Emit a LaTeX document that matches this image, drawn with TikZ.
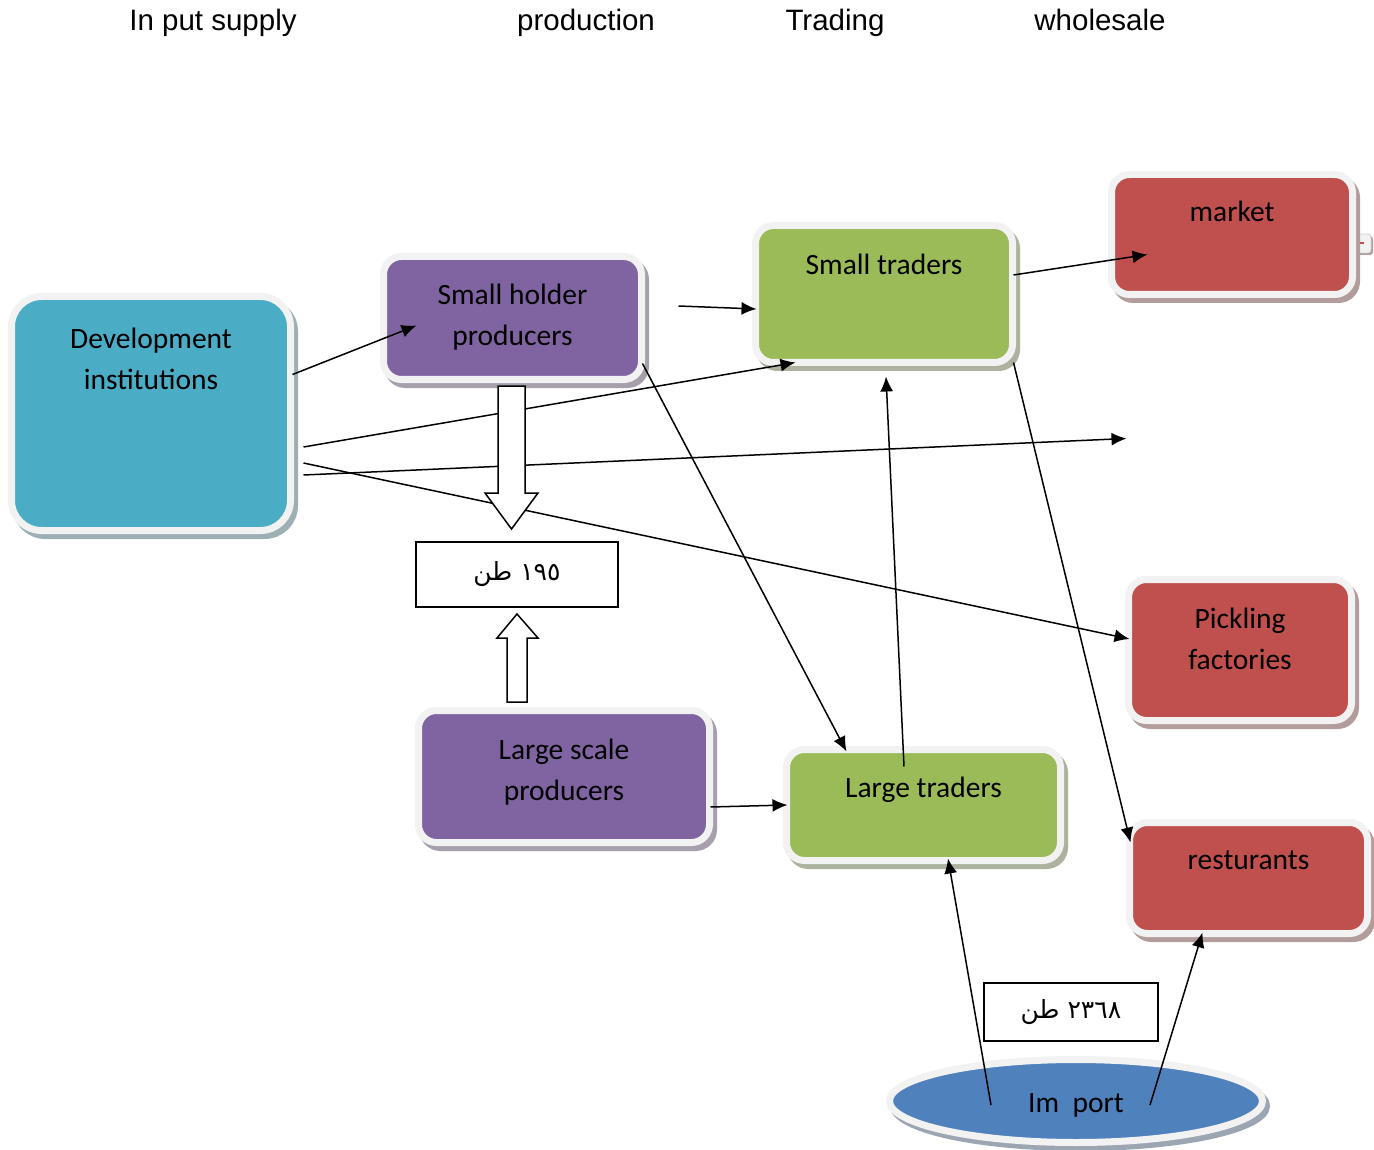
\documentclass[tikz,border=0pt]{standalone}
\usepackage{fontspec}
\setmainfont{Carlito}
\newfontfamily\hdrfont{Liberation Sans}
\newfontfamily\arabicfont[Script=Arabic]{DejaVu Sans}
\TeXXeTstate=1
\usetikzlibrary{calc,shapes.geometric,arrows.meta,shadows}
\definecolor{aqua}{HTML}{4BACC6}
\definecolor{purp}{HTML}{8064A2}
\definecolor{grn}{HTML}{9BBB59}
\definecolor{rd}{HTML}{C0504D}
\definecolor{blu}{HTML}{4F81BD}
\definecolor{bordc}{HTML}{F2F2F2}
\begin{document}
\begin{tikzpicture}[x=1pt,y=-1pt,
  wbox/.style={rectangle, rounded corners=18pt, fill=#1, draw=bordc, line width=7pt, outer sep=0pt, inner sep=0pt,
     drop shadow={shadow xshift=4pt, shadow yshift=-5pt, opacity=1, fill=#1!45!black!45!white, draw=#1!45!black!45!white, line width=7pt}},
  lbl/.style={font=\fontsize{29.5}{41}\selectfont, align=center, inner sep=0pt, anchor=north},
  conn/.style={line width=1.5pt, -{Latex[length=15pt,width=13pt]}},
  tbox/.style={draw=black, line width=1.5pt, fill=white, inner sep=0pt, font=\arabicfont\fontsize{25}{30}\selectfont},
  blk/.style={draw=black, line width=1.5pt, fill=white, line join=miter},
  hdr/.style={font=\hdrfont\fontsize{29.5}{34}\selectfont, anchor=base, inner sep=0pt}]
\useasboundingbox (0,0) rectangle (1374,1150);
\fill[white] (0,0) rectangle (1374,1150);

% headers
\node[hdr] (h1) at (213,31) {In put supply};
\node[hdr] (h2) at (586,31) {production};
\node[hdr] (h3) at (835,31) {Trading};
\node[hdr] (h4) at (1100,31) {wholesale};

% market tab
\draw[fill=bordc, draw=bordc!70!gray, line width=0.8pt, rounded corners=3pt,
  drop shadow={shadow xshift=2pt, shadow yshift=-2pt, opacity=1, fill=rd!45!black!45!white}] (1349,234) rectangle (1371,253);
\draw[rd, line width=1.4pt] (1357,243) -- (1364,243);

% boxes
\node[wbox=aqua, rounded corners=30pt, minimum width=279pt, minimum height=234pt] (dev) at (151,413.5) {};
\node[wbox=purp, minimum width=258pt, minimum height=123pt] (sh) at (512.5,318) {};
\node[wbox=grn, minimum width=257pt, minimum height=137pt] (st) at (884,294) {};
\node[wbox=rd, minimum width=241pt, minimum height=120pt] (mk) at (1232,234.5) {};
\node[wbox=rd, minimum width=223pt, minimum height=141pt] (pk) at (1240,650) {};
\node[wbox=rd, minimum width=238pt, minimum height=111pt] (rs) at (1248.5,878) {};
\node[wbox=purp, minimum width=291pt, minimum height=132pt] (ls) at (564,776.5) {};
\node[wbox=grn, minimum width=274pt, minimum height=111pt] (lt) at (923.5,805) {};
\node[ellipse, fill=blu, draw=bordc, line width=7pt, outer sep=0pt, inner sep=0pt,
  minimum width=373pt, minimum height=83pt, font=\fontsize{29.5}{34}\selectfont,
  drop shadow={shadow xshift=4pt, shadow yshift=-5pt, opacity=1, fill=blu!45!black!45!white, draw=blu!45!black!45!white, line width=7pt}]
  (im) at (1076,1101) {\raisebox{-11pt}[0pt][0pt]{Im\ \ port}};

% box labels
\node[lbl] (devl) at ($(dev.north)+(0,31)$) {Development\\institutions};
\node[lbl] (shl) at ($(sh.north)+(0,27)$) {Small holder\\producers};
\node[lbl] (stl) at ($(st.north)+(0,28)$) {Small traders};
\node[lbl] (mkl) at ($(mk.north)+(0,26)$) {market};
\node[lbl] (pkl) at ($(pk.north)+(0,28)$) {Pickling\\factories};
\node[lbl] (rsl) at ($(rs.north)+(0,28)$) {resturants};
\node[lbl] (lsl) at ($(ls.north)+(0,28)$) {Large scale\\producers};
\node[lbl] (ltl) at ($(lt.north)+(0,27)$) {Large traders};

% connectors
\coordinate (gap) at ($(mk.south west)+(15,144)$);
\draw[conn] ($(dev.north east)+(2,78)$) -- ($(sh.south west)+(33,-54)$);
\draw[conn] ($(sh.east)+(37,-12)$) -- ($(st.west)+(1,15)$);
\draw[conn] ($(dev.east)+(13,33.5)$) -- ($(st.south west)+(40,0)$);
\draw[conn] ($(dev.east)+(13,61.5)$) -- (gap);
\draw[conn] ($(dev.east)+(13,49.5)$) -- ($(pk.west)+(1,-11)$);
\draw[conn] ($(st.east)+(1,-19)$) -- ($(mk.west)+(36,20)$);
\draw[conn] ($(sh.south east)+(1,-16)$) -- ($(lt.north west)+(60,2)$);
\draw[conn] ($(lt.north)+(-19.5,17)$) -- ($(st.south)+(2,14)$);
\draw[conn] ($(st.south east)+(1,0)$) -- ($(rs.north west)+(1,20)$);
\draw[conn] ($(ls.east)+(1,30.5)$) -- ($(lt.west)+(1,0)$);
\draw[conn] ($(im.center)+(-85,4)$) -- ($(lt.south)+(24.5,-2)$);
\draw[conn] ($(im.center)+(74,4)$) -- ($(rs.south west)+(73,-1)$);

% block arrows and quantity boxes
\draw[blk] (498,386) -- (525,386) -- (525,493) -- (538,493) -- (511.5,529) -- (485,493) -- (498,493) -- cycle;
\node[tbox, minimum width=202pt, minimum height=65pt] (t195) at (517,574.5) {\raisebox{3pt}{\beginR ١٩٥ طن\endR}};
\draw[blk] (507,702) -- (527,702) -- (527,638) -- (538,638) -- (517,614) -- (497,638) -- (507,638) -- cycle;
\node[tbox, minimum width=174pt, minimum height=58pt] (t2368) at (1071,1012) {\beginR ٢٣٦٨ طن\endR};
\end{tikzpicture}
\end{document}
